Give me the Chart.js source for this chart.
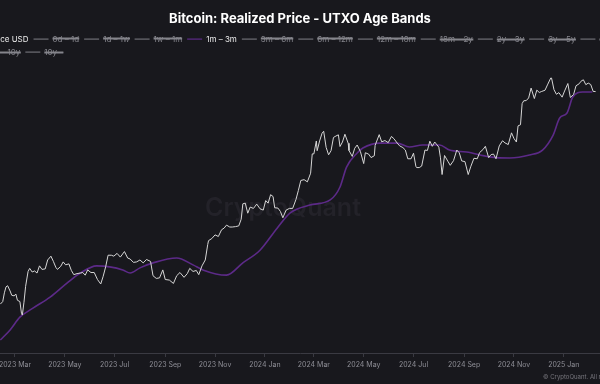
<!DOCTYPE html>
<html>
<head>
<meta charset="utf-8">
<script src="https://cdn.jsdelivr.net/npm/chart.js@4.4.1/dist/chart.umd.min.js"></script>
<style>
  html, body { margin: 0; padding: 0; background: #18181d; overflow: hidden; }
  #wrap { position: absolute; left: -34px; top: 0; width: 668px; height: 384px; }
</style>
</head>
<body>
<div id="wrap"><canvas id="bandsChart"></canvas></div>
<script>
// BTC price (white line)
const priceDates = [
  '2023-02-11','2023-02-14','2023-02-16','2023-02-18','2023-02-20','2023-02-23','2023-02-25','2023-02-28',
  '2023-03-02','2023-03-04','2023-03-07','2023-03-09','2023-03-10','2023-03-12','2023-03-14','2023-03-17',
  '2023-03-19','2023-03-22','2023-03-25','2023-03-28','2023-03-31','2023-04-03','2023-04-07','2023-04-10',
  '2023-04-14','2023-04-17','2023-04-20','2023-04-22','2023-04-26','2023-04-29','2023-05-02','2023-05-06',
  '2023-05-09','2023-05-12','2023-05-16','2023-05-20','2023-05-23','2023-05-26','2023-05-29','2023-06-02',
  '2023-06-06','2023-06-10','2023-06-14','2023-06-17','2023-06-20','2023-06-23','2023-06-27','2023-06-30',
  '2023-07-04','2023-07-08','2023-07-13','2023-07-17','2023-07-20','2023-07-24','2023-07-28','2023-08-01',
  '2023-08-05','2023-08-09','2023-08-14','2023-08-17','2023-08-21','2023-08-25','2023-08-29','2023-09-01',
  '2023-09-06','2023-09-11','2023-09-15','2023-09-19','2023-09-24','2023-09-28','2023-10-01','2023-10-05',
  '2023-10-09','2023-10-12','2023-10-16','2023-10-20','2023-10-23','2023-10-24','2023-10-28','2023-11-01',
  '2023-11-05','2023-11-09','2023-11-12','2023-11-15','2023-11-19','2023-11-22','2023-11-26','2023-11-30',
  '2023-12-03','2023-12-05','2023-12-08','2023-12-11','2023-12-14','2023-12-18','2023-12-22','2023-12-26',
  '2023-12-30','2024-01-02','2024-01-05','2024-01-08','2024-01-11','2024-01-13','2024-01-17','2024-01-20',
  '2024-01-23','2024-01-27','2024-01-31','2024-02-04','2024-02-08','2024-02-11','2024-02-14','2024-02-18',
  '2024-02-22','2024-02-26','2024-02-28','2024-03-01','2024-03-04','2024-03-05','2024-03-08','2024-03-11',
  '2024-03-13','2024-03-16','2024-03-19','2024-03-22','2024-03-25','2024-03-28','2024-03-31','2024-04-02',
  '2024-04-05','2024-04-08','2024-04-12','2024-04-13','2024-04-17','2024-04-20','2024-04-23','2024-04-27',
  '2024-05-01','2024-05-03','2024-05-07','2024-05-10','2024-05-14','2024-05-15','2024-05-20','2024-05-23',
  '2024-05-27','2024-05-31','2024-06-04','2024-06-07','2024-06-11','2024-06-14','2024-06-18','2024-06-21',
  '2024-06-24','2024-06-28','2024-07-01','2024-07-04','2024-07-05','2024-07-08','2024-07-11','2024-07-15',
  '2024-07-18','2024-07-21','2024-07-24','2024-07-27','2024-07-29','2024-08-01','2024-08-03','2024-08-05',
  '2024-08-08','2024-08-12','2024-08-15','2024-08-19','2024-08-23','2024-08-26','2024-08-29','2024-09-02',
  '2024-09-06','2024-09-09','2024-09-13','2024-09-17','2024-09-20','2024-09-24','2024-09-27','2024-10-01',
  '2024-10-04','2024-10-07','2024-10-10','2024-10-14','2024-10-18','2024-10-21','2024-10-25','2024-10-29',
  '2024-11-01','2024-11-04','2024-11-06','2024-11-09','2024-11-11','2024-11-13','2024-11-16','2024-11-19',
  '2024-11-22','2024-11-26','2024-11-29','2024-12-02','2024-12-05','2024-12-09','2024-12-12','2024-12-16',
  '2024-12-17','2024-12-20','2024-12-23','2024-12-26','2024-12-30','2025-01-02','2025-01-06','2025-01-09',
  '2025-01-13','2025-01-16','2025-01-20','2025-01-22','2025-01-25','2025-01-28','2025-01-31','2025-02-03',
  '2025-02-06','2025-02-09'
];
const priceValues = [
  21800,22200,23600,24600,24800,23900,23200,23100,
  23400,22400,22200,20400,20200,22100,24700,27400,
  28000,27300,27500,27100,28500,27800,27900,29700,
  30500,29400,28200,27800,28400,29300,28700,28900,
  27600,26800,27000,27100,27200,26700,27700,27200,
  27200,25900,25100,26500,28300,30700,30700,30500,
  31100,30300,31500,30100,29900,29200,29300,29700,
  29100,29800,29400,26600,26100,26200,27700,25900,
  25800,25200,26600,27200,26300,27000,28000,27400,
  27600,26800,28500,29700,33100,34000,34500,35400,
  35000,36700,37100,37900,37400,37400,37500,37700,
  39500,44000,44200,41200,43000,42600,43900,42500,
  42100,45000,44200,46900,46300,42800,42700,41700,
  39900,42100,42600,42600,45300,48300,51800,52100,
  51300,54500,62400,62400,68300,63800,68300,72100,
  73100,65300,62000,63800,70000,70700,71300,65700,
  67800,71600,67200,63900,61300,64900,66400,63400,
  58300,62900,62300,60800,61600,66200,71400,67900,
  68500,67500,70500,69400,67300,66000,65200,64100,
  60300,60300,62700,57000,56700,56700,57300,64100,
  63900,68200,65800,67800,66800,65400,60700,54000,
  61700,59300,57600,59500,64100,62900,59400,59100,
  54000,57000,60500,60300,63000,64300,65800,60800,
  62100,62300,60300,66000,68400,67400,66600,72300,
  69500,67800,75900,76500,88700,90500,90600,92300,
  98900,91900,97500,95900,96600,97400,101100,106100,
  106100,97800,94700,95800,92800,96900,102100,92600,
  94500,100500,102000,103700,104800,101300,102400,101400,
  96600,96500
];

// 1m - 3m realized price (purple line)
const bandDates = [
  '2023-02-11','2023-02-23','2023-03-07','2023-03-23','2023-04-13','2023-05-04','2023-05-20','2023-06-09',
  '2023-06-25','2023-07-11','2023-07-20','2023-08-01','2023-08-17','2023-09-15','2023-10-05','2023-10-17',
  '2023-11-15','2023-12-05','2023-12-26','2024-01-16','2024-02-01','2024-02-25','2024-03-21','2024-04-02',
  '2024-04-10','2024-04-23','2024-04-30','2024-05-21','2024-06-11','2024-06-26','2024-07-12','2024-08-02',
  '2024-08-14','2024-09-04','2024-10-02','2024-10-27','2024-11-20','2024-12-06','2024-12-19','2024-12-27',
  '2025-01-05','2025-01-12','2025-01-24','2025-02-05'
];
const bandValues = [
  16960,18200,19900,21200,22900,25300,27100,28500,
  28300,27700,27100,28100,29100,30100,28700,27700,
  26700,29100,31800,37100,41300,43600,45200,49500,
  56900,62800,65000,67300,67300,65500,66400,66400,
  64100,63200,61100,60600,61900,64100,71200,80200,
  83100,92900,96200,96200
];

const seriesLabels = ['Price USD', '0d – 1d', '1d – 1w', '1w – 1m', '1m – 3m', '3m – 6m', '6m – 12m',
  '12m – 18m', '18m – 2y', '2y – 3y', '3y – 5y', '5y – 7y', '7y – 10y', '10y –'];

const tickDates = ['2023-03-01','2023-05-01','2023-07-01','2023-09-01','2023-11-01','2024-01-01',
  '2024-03-01','2024-05-01','2024-07-01','2024-09-01','2024-11-01','2025-01-01'];
const tickLabels = ['2023 Mar','2023 May','2023 Jul','2023 Sep','2023 Nov','2024 Jan',
  '2024 Mar','2024 May','2024 Jul','2024 Sep','2024 Nov','2025 Jan'];

const dayNum = s => Date.parse(s) / 864e5;

const xMin = dayNum('2022-12-31');
const xMax = dayNum('2025-03-28');
const yMin = 15487;
const yMax = 115340;

const priceData = priceDates.map((d, i) => ({ x: dayNum(d), y: priceValues[i] }));
const bandData = bandDates.map((d, i) => ({ x: dayNum(d), y: bandValues[i] }));

const datasets = seriesLabels.map(label => {
  if (label === 'Price USD') {
    return { label, data: priceData, borderColor: '#d6d6d6', borderWidth: 1 };
  }
  if (label === '1m – 3m') {
    return { label, data: bandData, borderColor: '#5c2a88', borderWidth: 1.6, cubicInterpolationMode: 'monotone' };
  }
  return { label, data: [], borderColor: '#6f6f76', borderWidth: 1, hidden: true };
});

// watermark + copyright
const brandText = {
  id: 'brandText',
  beforeDatasetsDraw(chart) {
    const ctx = chart.ctx;
    ctx.save();
    ctx.font = '600 25px Inter';
    ctx.fillStyle = '#232229';
    ctx.textAlign = 'center';
    ctx.textBaseline = 'middle';
    ctx.fillText('CryptoQuant', 283 + 34, 208);
    ctx.restore();
  },
  afterDraw(chart) {
    const ctx = chart.ctx;
    ctx.save();
    ctx.font = '6px Inter';
    ctx.fillStyle = '#77767d';
    ctx.textAlign = 'left';
    ctx.textBaseline = 'middle';
    ctx.fillText('© CryptoQuant. All rights reserved.', 543 + 34, 377);
    ctx.restore();
  }
};

Chart.defaults.font.family = 'Inter';

const ctx = document.getElementById('bandsChart').getContext('2d');
const bandsChart = new Chart(ctx, {
  type: 'line',
  data: { datasets },
  plugins: [brandText],
  options: {
    responsive: true,
    maintainAspectRatio: false,
    animation: false,
    layout: { padding: { top: 0, bottom: 10.6, left: 0, right: 0 } },
    elements: { point: { radius: 0 }, line: { tension: 0 } },
    plugins: {
      title: {
        display: true,
        text: 'Bitcoin: Realized Price - UTXO Age Bands',
        color: '#ffffff',
        font: { size: 13, weight: 'bold' },
        padding: { top: 11, bottom: 3.5 }
      },
      legend: {
        position: 'top',
        align: 'start',
        labels: {
          usePointStyle: true,
          pointStyle: 'line',
          pointStyleWidth: 15,
          padding: 5,
          font: { size: 8 },
          generateLabels(chart) {
            const items = Chart.defaults.plugins.legend.labels.generateLabels(chart);
            items.forEach(it => {
              it.fontColor = it.hidden ? '#85858c' : '#ececec';
              it.lineWidth = 1.2;
            });
            return items;
          }
        }
      },
      tooltip: { enabled: false }
    },
    scales: {
      x: {
        type: 'linear',
        min: xMin,
        max: xMax,
        afterBuildTicks(scale) {
          scale.ticks = tickDates.map(d => ({ value: dayNum(d) }));
        },
        grid: { drawOnChartArea: false, color: '#3a3a42', tickLength: 4 },
        border: { color: '#3a3a42' },
        ticks: {
          color: '#8e8e96',
          font: { size: 7 },
          padding: 4,
          maxRotation: 0,
          autoSkip: false,
          callback: (value, index) => tickLabels[index]
        }
      },
      y: {
        type: 'logarithmic',
        display: false,
        min: yMin,
        max: yMax
      }
    }
  }
});
</script>
</body>
</html>
